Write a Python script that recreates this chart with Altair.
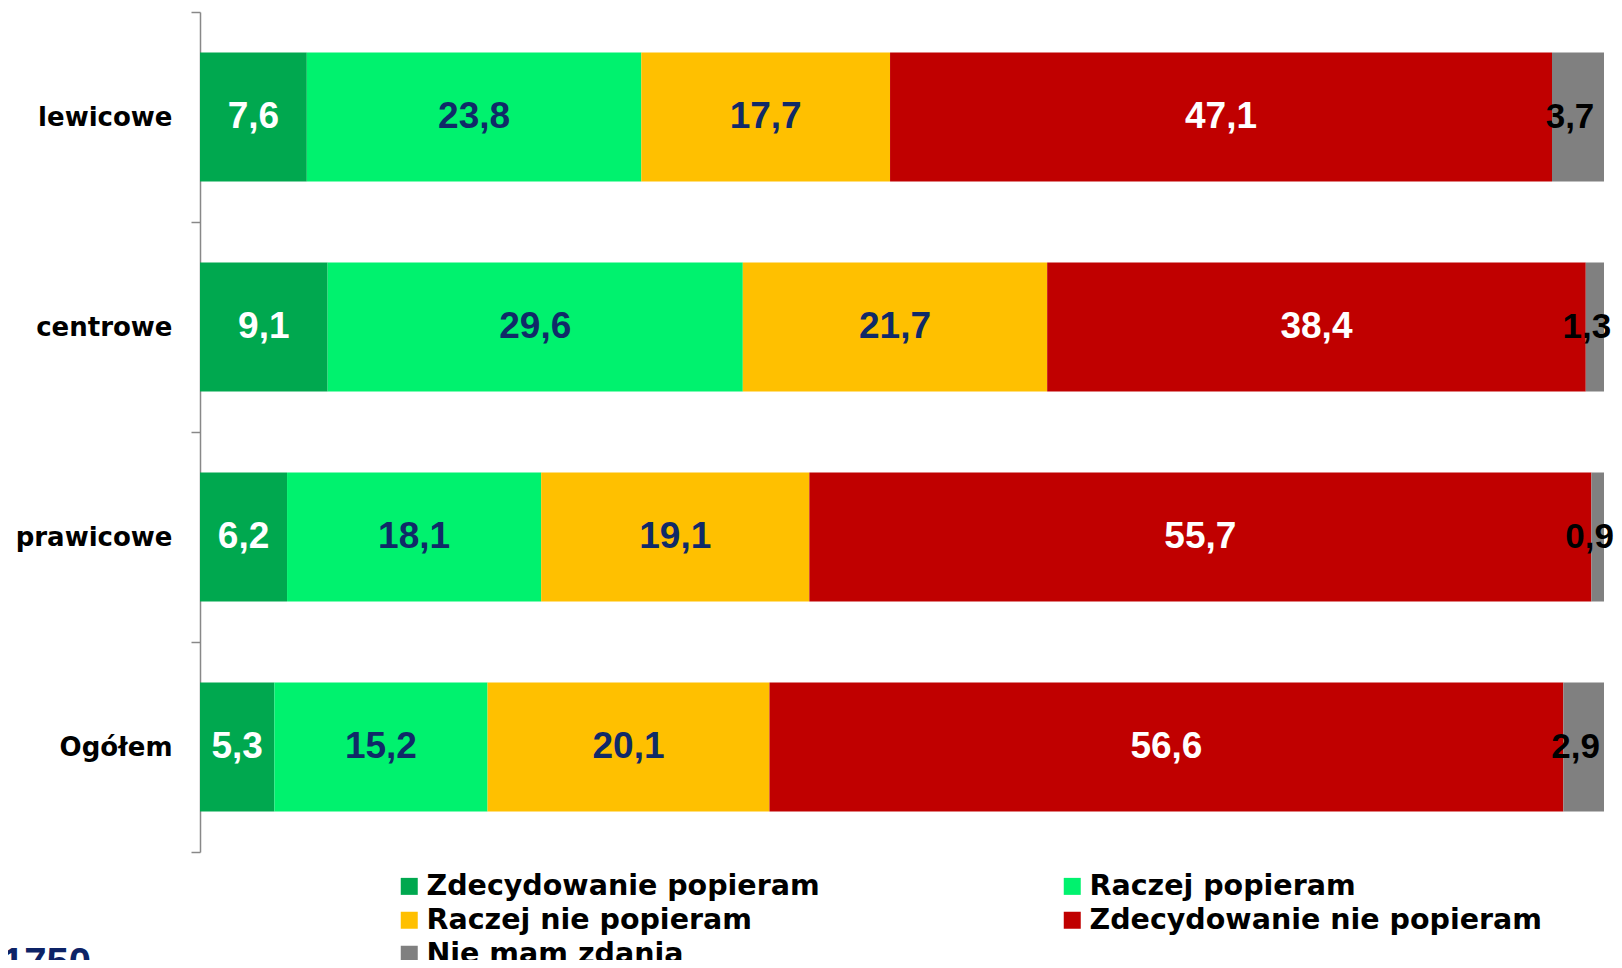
import altair as alt
import pandas as pd

categories = ["lewicowe", "centrowe", "prawicowe", "Ogółem"]
responses = ["Zdecydowanie popieram", "Raczej popieram", "Raczej nie popieram",
             "Zdecydowanie nie popieram", "Nie mam zdania"]
zdecydowanie_popieram = [7.6, 9.1, 6.2, 5.3]
raczej_popieram = [23.8, 29.6, 18.1, 15.2]
raczej_nie_popieram = [17.7, 21.7, 19.1, 20.1]
zdecydowanie_nie_popieram = [47.1, 38.4, 55.7, 56.6]
nie_mam_zdania = [3.7, 1.3, 0.9, 2.9]
note = "N=1750"

bar_colors = ["#00A84F", "#00F26E", "#FFC000", "#C00000", "#808080"]
text_colors = ["#FFFFFF", "#102A68", "#102A68", "#FFFFFF", "#000000"]

series = [zdecydowanie_popieram, raczej_popieram, raczej_nie_popieram,
          zdecydowanie_nie_popieram, nie_mam_zdania]
rows = []
for ri, (resp, vals) in enumerate(zip(responses, series)):
    for cat, v in zip(categories, vals):
        rows.append({"cat": cat, "resp": resp, "o": ri, "v": v})
df = pd.DataFrame(rows)

base = alt.Chart(df).transform_stack(
    stack="v", groupby=["cat"], as_=["x0", "x1"], offset="normalize",
    sort=[alt.SortField("o", order="ascending")]
).transform_calculate(
    xm="(datum.x0 + datum.x1) / 2",
    lab="replace(format(datum.v, '.1f'), '.', ',')"
)

yenc = alt.Y("cat:N", sort=categories, title=None,
             scale=alt.Scale(paddingInner=0, paddingOuter=0),
             axis=alt.Axis(tickBand="extent", labelFont="DejaVu Sans", labelFontWeight="bold",
                           labelFontSize=26, labelColor="#000000", labelPadding=19,
                           tickSize=9, tickColor="#888888", domainColor="#888888",
                           domainWidth=1.5, tickWidth=1.5))

xscale = alt.Scale(domain=[0, 1], nice=False, zero=True)

bars = base.mark_bar(height={"band": 0.614}).encode(
    y=yenc,
    x=alt.X("x0:Q", scale=xscale, axis=None),
    x2="x1:Q",
    color=alt.Color("resp:N", sort=responses,
                    scale=alt.Scale(domain=responses, range=bar_colors),
                    legend=alt.Legend(title=None, orient="none", legendX=195, legendY=860,
                                      columns=2, columnPadding=238, rowPadding=5,
                                      symbolType="square", symbolSize=289, symbolStrokeWidth=0,
                                      labelFont="DejaVu Sans", labelFontWeight="bold",
                                      labelFontSize=28.5, labelColor="#000000", labelLimit=800,
                                      labelOffset=3, direction="horizontal")),
)

text_style = dict(font="Liberation Sans", fontWeight="bold",
                  baseline="middle", align="center")

texts_main = base.transform_filter(
    alt.datum.resp != responses[-1]
).mark_text(fontSize=37, **text_style).encode(
    y=alt.Y("cat:N", sort=categories),
    x=alt.X("xm:Q", scale=xscale),
    text="lab:N",
    color=alt.Color("resp:N", scale=alt.Scale(domain=responses, range=text_colors), legend=None),
)

texts_last = base.transform_filter(
    alt.datum.resp == responses[-1]
).mark_text(dx=-8, fontSize=35, **text_style).encode(
    y=alt.Y("cat:N", sort=categories),
    x=alt.X("xm:Q", scale=xscale),
    text="lab:N",
    color=alt.Color("resp:N", scale=alt.Scale(domain=responses, range=text_colors), legend=None),
)

note_layer = alt.Chart(pd.DataFrame({"t": [note]})).mark_text(
    font="Liberation Sans", fontWeight="bold", fontSize=40, align="right",
    baseline="top", color="#0D2366"
).encode(x=alt.value(-109), y=alt.value(932), text="t:N")

chart = alt.layer(bars, texts_main, texts_last, note_layer).resolve_scale(
    color="independent"
).properties(
    width=1404, height=840,
    autosize=alt.AutoSizeParams(type="none"),
    padding={"left": 192, "top": 4, "right": 10, "bottom": 108},
).configure_view(stroke=None)

chart.save("out.html", embed_options={"renderer": "svg", "actions": False})
